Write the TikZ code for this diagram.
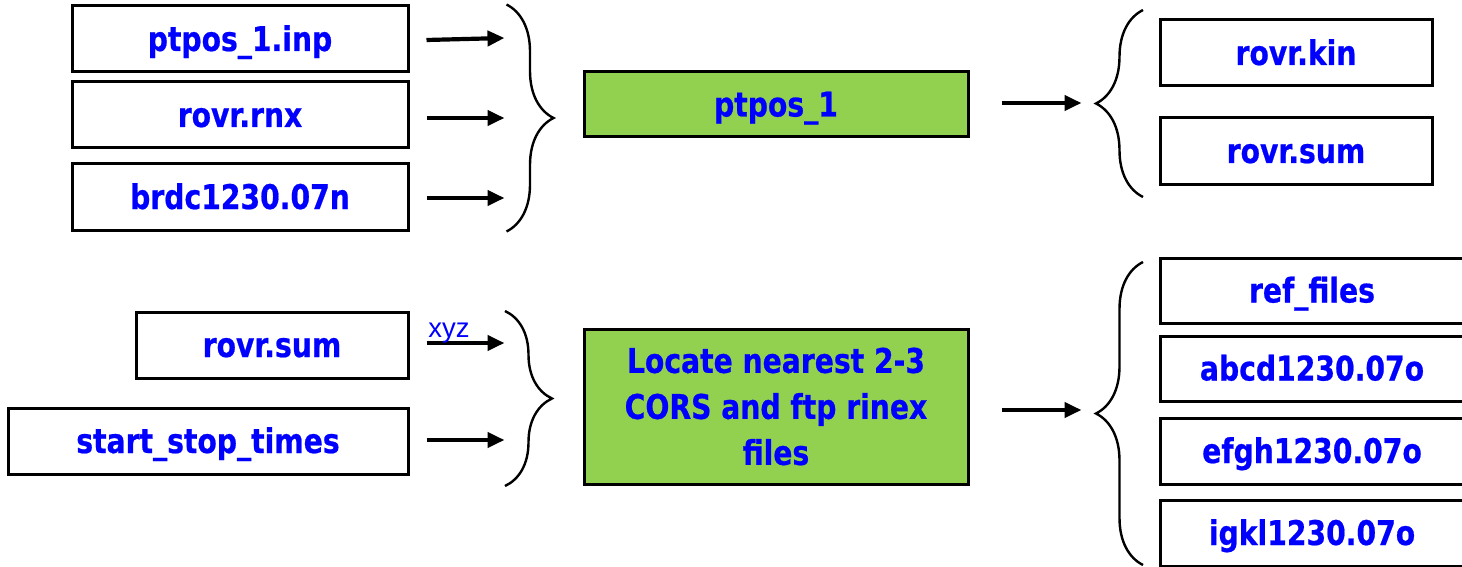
\documentclass[tikz,border=0pt]{standalone}
\usepackage{fontspec}
\setmainfont{DejaVu Sans}
\newfontfamily\boxfont{DejaVu Sans}[FakeStretch=0.83, BoldFeatures={FakeBold=0.6}]
\newfontfamily\labelfont{Liberation Sans}
\usetikzlibrary{arrows.meta,decorations.pathreplacing,calc}
\definecolor{fileblue}{RGB}{0,0,255}
\definecolor{stepgreen}{RGB}{146,208,80}

\begin{document}
\begin{tikzpicture}[x=1pt,y=-1pt,
  basebox/.style={draw, line width=3pt, rectangle, inner sep=0pt, text=fileblue,
    font=\boxfont\bfseries\fontsize{34}{46}\selectfont},
  filebox/.style={basebox, minimum height=66pt, text height=30pt, text depth=6pt},
  procbox/.style={filebox, fill=stepgreen},
  multibox/.style={basebox, fill=stepgreen, align=center},
  flow/.style={line width=4.2pt, -{Triangle[length=17pt,width=15pt]}},
  curly/.style={line width=2.4pt, decorate, decoration={brace, amplitude=47pt}},
  edgelabel/.style={text=fileblue, font=\labelfont\fontsize{27.5}{32}\selectfont, inner sep=0pt}]

\useasboundingbox (0,0) rectangle (1462,567);
\clip (0,0) rectangle (1462,567);

% ---------- first step: ptpos_1 ----------
\node[filebox, minimum width=336pt] (in1) at (240,39)  {ptpos\_1.inp};
\node[filebox, minimum width=336pt] (in2) at (240,115) {rovr.rnx};
\node[filebox, minimum width=336pt] (in3) at (240,197) {brdc1230.07n};

\node[procbox, minimum width=384pt, minimum height=65pt] (proc1) at (776,104.5) {ptpos\_1};

\node[filebox, minimum width=272pt] (out1a) at (1296,53)  {rovr.kin};
\node[filebox, minimum width=272pt] (out1b) at (1296,151) {rovr.sum};

\draw[flow] ($(in1.east)+(17,1)$) -- ++(78,-2);
\draw[flow] ($(in2.east)+(17,3)$) -- ++(78,0);
\draw[flow] ($(in3.east)+(17,1)$) -- ++(78,0);

\draw[curly] ($(in1.north east)+(97,0)$) -- ($(in3.south east)+(97,0)$);

\draw[flow] ($(proc1.east)+(32,-1.5)$) -- ++(80,0);

\draw[curly] (1143,197) -- (1143,10);

% ---------- second step: reference stations ----------
\node[filebox, minimum width=272pt] (in4) at (272,345) {rovr.sum};
\node[filebox, minimum width=400pt] (in5) at (208,441) {start\_stop\_times};

\node[multibox, minimum width=384pt, minimum height=155pt] (proc2) at (776,406.5)
  {Locate nearest 2-3\\CORS and ftp rinex\\files};

\node[filebox, minimum width=304pt, minimum height=65pt] (out2a) at (1312,290.5) {ref\_files};
\node[filebox, minimum width=304pt, minimum height=65pt] (out2b) at (1312,368.5) {abcd1230.07o};
\node[filebox, minimum width=304pt] (out2c) at (1312,451) {efgh1230.07o};
\node[filebox, minimum width=304pt] (out2d) at (1312,533) {igkl1230.07o};

\draw[flow] ($(in4.east)+(17,-2)$) -- node[edgelabel, pos=0.29, anchor=base, yshift=6pt] (xyz) {xyz} ++(78,0);
\draw[flow] ($(in5.east)+(17,-1)$) -- ++(78,0);

\draw[curly] (505,311) -- (505,486);

\draw[flow] ($(proc2.east)+(32,3.5)$) -- ++(80,0);

\draw[curly] (1143,565) -- (1143,262);

\end{tikzpicture}
\end{document}
